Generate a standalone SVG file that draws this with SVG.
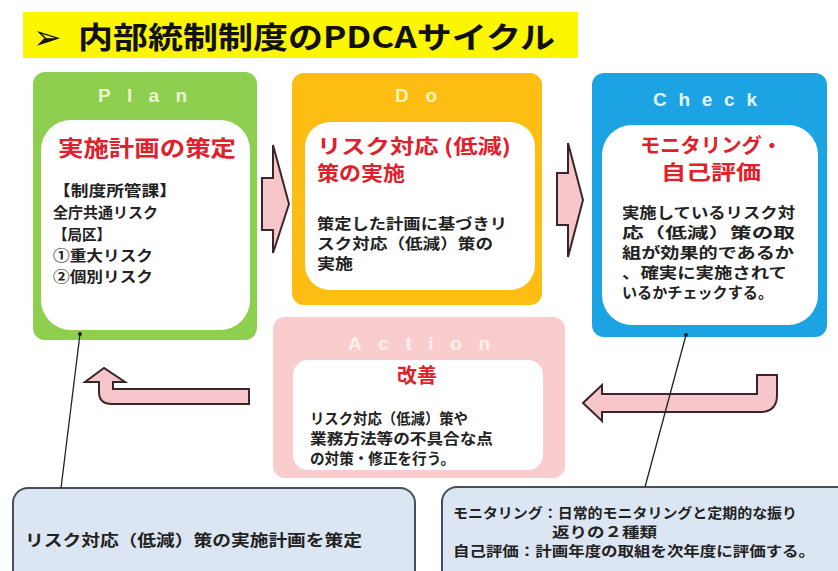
<svg xmlns="http://www.w3.org/2000/svg" width="838" height="571" viewBox="0 0 838 571">
<defs>
<style>
.jp{font-family:"Noto Sans CJK JP","DejaVu Sans",sans-serif;font-weight:bold;}
.hd{font-family:"Liberation Sans",Arial,sans-serif;font-weight:bold;font-size:19px;}
.red{fill:#e2202c;}
.body{fill:#222;font-size:15px;}
.inner{fill:#ffffff;}
.arrow{fill:#f7c6cb;stroke:#3a2628;stroke-width:2;stroke-linejoin:miter;}
.callout{fill:#dce6f2;stroke:#44505c;stroke-width:2;}
.lead{stroke:#222;stroke-width:1.3;fill:none;}
</style>
</defs>
<rect x="0" y="0" width="838" height="571" fill="#ffffff"/>

<g id="title">
<rect x="23" y="12" width="555" height="46" fill="#fcf600"/>
<text x="33" y="49" font-family="DejaVu Sans, sans-serif" font-size="34" fill="#111">➢</text>
<text x="78" y="48" class="jp" font-size="30" font-weight="500" fill="#111" textLength="477" lengthAdjust="spacingAndGlyphs">内部統制制度のPDCAサイクル</text>
</g>

<g id="plan">
<rect x="33" y="72" width="224" height="268" rx="12" fill="#8fcf4f"/>
<text x="98" y="102" class="hd" fill="#eaf7d2" textLength="89" lengthAdjust="spacing">Plan</text>
<rect x="41" y="120" width="209" height="210" rx="30" class="inner"/>
<text x="58" y="156" class="jp red" font-size="22" textLength="178" lengthAdjust="spacingAndGlyphs">実施計画の策定</text>
<text x="53" y="196" class="jp body" textLength="124" lengthAdjust="spacingAndGlyphs">【制度所管課】</text>
<text x="53" y="218" class="jp body" textLength="105" lengthAdjust="spacingAndGlyphs">全庁共通リスク</text>
<text x="53" y="240" class="jp body" textLength="58" lengthAdjust="spacingAndGlyphs">【局区】</text>
<text x="53" y="261" class="jp body" textLength="100" lengthAdjust="spacingAndGlyphs">①重大リスク</text>
<text x="53" y="282" class="jp body" textLength="100" lengthAdjust="spacingAndGlyphs">②個別リスク</text>
</g>

<g id="do">
<rect x="292" y="73" width="250" height="232" rx="12" fill="#fdbd12"/>
<text x="395" y="102" class="hd" fill="#fff3b8" textLength="42" lengthAdjust="spacing">Do</text>
<rect x="305" y="122" width="230" height="168" rx="25" class="inner"/>
<text x="317" y="154" class="jp red" font-size="20" textLength="194" lengthAdjust="spacingAndGlyphs">リスク対応 (低減)</text>
<text x="317" y="181" class="jp red" font-size="20" textLength="88" lengthAdjust="spacingAndGlyphs">策の実施</text>
<text x="317" y="229" class="jp body" textLength="190" lengthAdjust="spacingAndGlyphs">策定した計画に基づきリ</text>
<text x="317" y="249" class="jp body" textLength="176" lengthAdjust="spacingAndGlyphs">スク対応（低減）策の</text>
<text x="317" y="269" class="jp body" textLength="36" lengthAdjust="spacingAndGlyphs">実施</text>
</g>

<g id="check">
<rect x="592" y="73" width="235" height="264" rx="12" fill="#1ba3e3"/>
<text x="653" y="106" class="hd" fill="#e2f6ff" textLength="104" lengthAdjust="spacing">Check</text>
<rect x="602" y="125" width="216" height="200" rx="30" class="inner"/>
<text x="711" y="153" class="jp red" font-size="20" text-anchor="middle" textLength="142" lengthAdjust="spacingAndGlyphs">モニタリング・</text>
<text x="711" y="180" class="jp red" font-size="20" text-anchor="middle" textLength="100" lengthAdjust="spacingAndGlyphs">自己評価</text>
<text x="622" y="218" class="jp body" textLength="173" lengthAdjust="spacingAndGlyphs">実施しているリスク対</text>
<text x="622" y="238" class="jp body" textLength="173" lengthAdjust="spacingAndGlyphs">応（低減）策の取</text>
<text x="622" y="258" class="jp body" textLength="172" lengthAdjust="spacingAndGlyphs">組が効果的であるか</text>
<text x="622" y="278" class="jp body" textLength="165" lengthAdjust="spacingAndGlyphs">、確実に実施されて</text>
<text x="622" y="298" class="jp body" textLength="151" lengthAdjust="spacingAndGlyphs">いるかチェックする。</text>
</g>

<g id="action">
<rect x="273" y="317" width="292" height="161" rx="12" fill="#f9cdcd"/>
<text x="348" y="350" class="hd" fill="#fdf0f0" textLength="142" lengthAdjust="spacing">Action</text>
<rect x="293" y="360" width="250" height="110" rx="15" class="inner"/>
<text x="417" y="383" class="jp red" font-size="20" text-anchor="middle">改善</text>
<text x="310" y="424" class="jp body" textLength="158" lengthAdjust="spacingAndGlyphs">リスク対応（低減）策や</text>
<text x="310" y="444" class="jp body" textLength="183" lengthAdjust="spacingAndGlyphs">業務方法等の不具合な点</text>
<text x="310" y="464" class="jp body" textLength="145" lengthAdjust="spacingAndGlyphs">の対策・修正を行う。</text>
</g>

<g id="note-plan">
<rect x="13" y="488" width="402" height="110" rx="15" class="callout"/>
<text x="25" y="546" class="jp" font-size="16" fill="#222" textLength="337" lengthAdjust="spacingAndGlyphs">リスク対応（低減）策の実施計画を策定</text>
</g>

<g id="note-check">
<rect x="442" y="487" width="410" height="110" rx="15" class="callout"/>
<text x="453" y="518" class="jp" font-size="14" fill="#222" textLength="344" lengthAdjust="spacingAndGlyphs">モニタリング：日常的モニタリングと定期的な振り</text>
<text x="552" y="537" class="jp" font-size="14" fill="#222" textLength="105" lengthAdjust="spacingAndGlyphs">返りの２種類</text>
<text x="453" y="556" class="jp" font-size="14" fill="#222" textLength="362" lengthAdjust="spacingAndGlyphs">自己評価：計画年度の取組を次年度に評価する。</text>
</g>

<g id="connectors">
<path class="arrow" d="M262,178 L273,178 L273,145 L289,204 L273,253 L273,230 L262,230 Z"/>
<path class="arrow" d="M557,173 L568,173 L568,143 L583,200 L568,257 L568,225 L557,225 Z"/>
<path class="arrow" d="M583,403 L602,385 L602,394 L757,394 L757,375 L777,375 L777,395 Q777,412 760,412 L602,412 L602,421 Z"/>
<path class="arrow" d="M249,389 L113,389 L113,382 L125,382 L104,368 L85,382 L99,382 L99,392 Q99,404 112,404 L249,404 Z"/>
<line class="lead" x1="61" y1="488" x2="80" y2="334"/>
<circle cx="80" cy="334" r="2" fill="#222"/>
<line class="lead" x1="645" y1="487" x2="686" y2="335"/>
<circle cx="686" cy="335" r="2" fill="#222"/>
</g>
</svg>
